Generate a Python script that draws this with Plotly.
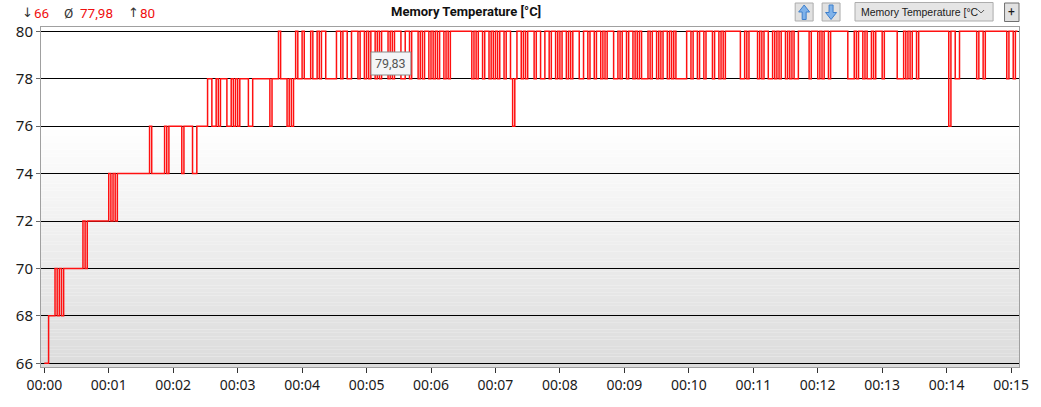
import plotly.graph_objects as go

# ---------------- data ----------------
# one character per 2-second sample, one string per minute
level_codes = {"a": 66, "b": 68, "c": 70, "d": 72, "e": 74, "f": 76, "g": 78, "h": 80}
sample_seconds = 2
samples_by_minute = [
    "aabbbcbcbcccccccccdcdddddddddd",  # 00:00
    "ededeeeeeeeeeeeeeeefeeeeeefeff",  # 00:01
    "ffffeffffeefffffggffgfgggffgfg",  # 00:02
    "fggggffggggggggfggghgggfgfghgg",  # 00:03
    "hggghgghghhggggghhghhgghhhghhg",  # 00:04
    "hghhghghhhghghhhgghhghhhghghhg",  # 00:05
    "hghghhghghhhhhhhhhhghghhghhghg",  # 00:06
    "hghhghhgfghhghghhhghhgghhghhgh",  # 00:07
    "ghhghghhhgghhghhghhghghhhgghgh",  # 00:08
    "hghhghghggghghhghghhghghgggggh",  # 00:09
    "hghhghhghhhghhghghhhhhhhgghghh",  # 00:10
    "hhghghhgghghghhghghgghhhhhghhh",  # 00:11
    "ghghhghhhhhhhhggghghhghgghghhh",  # 00:12
    "ghhhhhhggghghghhghhhhhhhhhhhhh",  # 00:13
    "hfhhgghhhhhhhhghhghhhhhhhhhhgh",  # 00:14
    "hghh",                            # 00:15
]

minute_tick_values = [0, 1, 2, 3, 4, 5, 6, 7, 8, 9, 10, 11, 12, 13, 14, 15]
minute_tick_labels = ["00:00", "00:01", "00:02", "00:03", "00:04", "00:05", "00:06", "00:07",
                      "00:08", "00:09", "00:10", "00:11", "00:12", "00:13", "00:14", "00:15"]
temp_tick_values = [66, 68, 70, 72, 74, 76, 78, 80]

stat_min = "66"
stat_avg = "77,98"
stat_max = "80"
title_text = "Memory Temperature [°C]"
dropdown_text = "Memory Temperature [°C"
tooltip_text = "79,83"

# ---------------- build series ----------------
times = []
temps = []
for m, s in enumerate(samples_by_minute):
    for k, ch in enumerate(s):
        times.append(m + k * sample_seconds / 60.0)
        temps.append(level_codes[ch])

# ---------------- layout geometry (window pixels) ----------------
W, H = 1041, 407
L, R, T, B = 41, 1022, 27, 367   # plot frame in window pixels
FONT = "Roboto, Noto Sans, DejaVu Sans, sans-serif"


def px(x):
    return (x - L) / (R - L)


def py(y):
    return (B - y) / (B - T)


fig = go.Figure()
fig.add_trace(go.Scatter(
    x=times, y=temps, mode="lines",
    line=dict(color="#ff1010", width=1.5, shape="hv"),
    hoverinfo="skip", showlegend=False,
))

shapes = []
# vertical background gradient (white at 76 down to light gray at 66)
n_bands = 70
for i in range(n_bands):
    y0 = 66 + 10 * i / n_bands
    y1 = 66 + 10 * (i + 1) / n_bands
    v = int(round(220 + 35 * ((y0 + y1) / 2 - 66) / 10))
    shapes.append(dict(type="rect", xref="paper", yref="y", x0=0, x1=1, y0=y0, y1=y1,
                       fillcolor=f"rgb({v},{v},{v})", line=dict(width=0), layer="below"))
shapes.append(dict(type="rect", xref="paper", yref="y", x0=0, x1=1, y0=65.5, y1=66,
                   fillcolor="rgb(220,220,220)", line=dict(width=0), layer="below"))


def rect_px(x0, y0, x1, y1, fill, line, layer="above"):
    shapes.append(dict(type="rect", xref="paper", yref="paper",
                       x0=px(x0), x1=px(x1), y0=py(y1), y1=py(y0),
                       fillcolor=fill, line=dict(color=line, width=1), layer=layer))


def path_px(points, fill, line, closed=True, width=1):
    d = "M " + " L ".join(f"{px(x):.5f},{py(y):.5f}" for x, y in points)
    if closed:
        d += " Z"
    shapes.append(dict(type="path", xref="paper", yref="paper", path=d,
                       fillcolor=fill if closed else None,
                       line=dict(color=line, width=width), layer="above"))


# buttons top right
rect_px(797.5, 3, 815.5, 21, "#e1e1e1", "#adadad")
rect_px(824.5, 3, 842.5, 21, "#e1e1e1", "#adadad")
cx = 806.5
path_px([(cx, 5), (cx + 5.5, 12), (cx + 2, 12), (cx + 2, 19.5), (cx - 2, 19.5), (cx - 2, 12), (cx - 5.5, 12)],
        "#7fb2ea", "#3d7fcc")
cx = 833.5
path_px([(cx, 19.5), (cx + 5.5, 12.5), (cx + 2, 12.5), (cx + 2, 5), (cx - 2, 5), (cx - 2, 12.5), (cx - 5.5, 12.5)],
        "#7fb2ea", "#3d7fcc")
rect_px(857.5, 2.5, 996, 21, "#e5e5e5", "#adadad")
path_px([(981, 10), (984, 13), (987, 10)], None, "#555555", closed=False)
rect_px(1007.5, 3, 1022, 21.5, "#e1e1e1", "#707070")

# tooltip box
rect_px(372, 52, 412, 75, "#f4f5f7", "#8a8a8a")

annotations = []


def text_px(x, y, text, size=13, color="#1a1a1a", anchor="left", bold=False, family=FONT):
    if bold:
        text = f"<b>{text}</b>"
    annotations.append(dict(xref="paper", yref="paper", x=px(x), y=py(y), text=text,
                            showarrow=False, xanchor=anchor, yanchor="middle",
                            font=dict(family=family, size=size, color=color)))


text_px(20, 13, "↓", 13, "#333333", family="DejaVu Sans")
text_px(32, 13, stat_min, 13.5, "#f01010")
text_px(62, 13, "Ø", 13.5, "#333333")
text_px(78, 13, stat_avg, 13.5, "#f01010")
text_px(126, 13, "↑", 13, "#333333", family="DejaVu Sans")
text_px(138, 13, stat_max, 13.5, "#f01010")
text_px(467, 12, title_text, 13, "#111111", anchor="center", bold=True)
text_px(862, 12, dropdown_text, 10.5, "#1a1a1a", family="Liberation Sans, Arial, sans-serif")
text_px(1014.8, 12, "+", 12, "#1a1a1a", anchor="center")
text_px(392, 63.5, tooltip_text, 12.5, "#555555", anchor="center")

fig.update_layout(
    width=W, height=H,
    margin=dict(l=L, r=W - R, t=T, b=H - B, pad=0),
    paper_bgcolor="white", plot_bgcolor="white",
    showlegend=False,
    shapes=shapes, annotations=annotations,
    font=dict(family=FONT, color="#1a1a1a"),
    hovermode=False,
)
px_per_min = 64.65
fig.update_xaxes(
    range=[(L - 44.3) / px_per_min, (R - 44.3) / px_per_min],
    tickvals=minute_tick_values, ticktext=minute_tick_labels,
    ticks="outside", ticklen=5, tickcolor="#333333", tickwidth=1,
    tickfont=dict(size=14, color="#1a1a1a", family="Noto Sans, sans-serif"),
    showgrid=False, zeroline=False,
    showline=True, linecolor="#a0a0a0", linewidth=1, mirror=True,
)
fig.update_yaxes(
    range=[66 - (B - 363.3) / 23.71, 80 + (31.3 - T) / 23.71],
    tickvals=temp_tick_values,
    ticks="outside", ticklen=4, tickcolor="#666666", tickwidth=1,
    tickfont=dict(size=15, color="#1a1a1a", family="Noto Sans, sans-serif"),
    showgrid=True, gridcolor="#000000", gridwidth=1,
    zeroline=False,
    showline=True, linecolor="#a0a0a0", linewidth=1, mirror=True,
)

fig.write_html(
    "out.html",
    config={"displayModeBar": False},
    post_script="document.body.style.margin='0';document.body.style.padding='0';"
                "document.body.style.overflow='hidden';",
)
